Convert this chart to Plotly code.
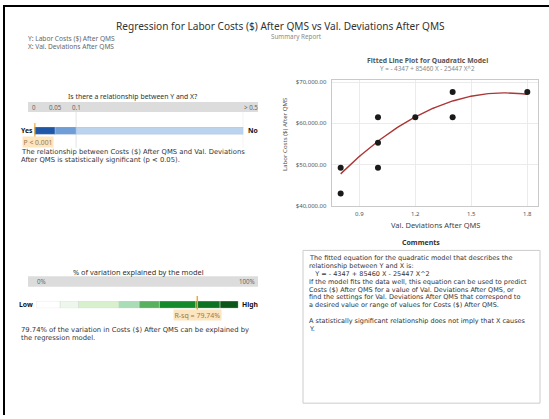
import numpy as np
import plotly.graph_objects as go

W, H = 549, 419
FONT = "Noto Sans"
BODY = "DejaVu Sans"

# ---------------- data ----------------
x_dev = [0.8, 0.8, 1.0, 1.0, 1.0, 1.2, 1.4, 1.4, 1.8]
y_cost = [49200, 43000, 61500, 55300, 49200, 61500, 67600, 61500, 67600]
coef = [-4347, 85460, -25447]          # Y = b0 + b1 X + b2 X^2
x_ticks = [0.9, 1.2, 1.5, 1.8]
y_ticks = [40000, 50000, 60000, 70000]
y_ticktext = ["${:,.2f}".format(v) for v in y_ticks]

p_value = 0.001
p_bounds = [0, 0.05, 0.1, 0.5]
p_labels = ["0", "0.05", "0.1", "> 0.5"]
p_colors = ["#1f57a6", "#6f9dd6", "#bcd3ee"]

rsq = 79.74
rsq_bounds = [0, 12, 21, 41, 51, 61, 79, 91, 100]
rsq_colors = ["#ffffff", "#eef7ec", "#d8f0cc", "#a8ddb6", "#58b15e", "#148a2a", "#0d7322", "#0a5517"]
rsq_labels = ["0%", "100%"]

title = "Regression for Labor Costs ($) After QMS vs Val. Deviations After QMS"
subtitle = "Summary Report"
var_lines = ["Y: Labor Costs ($) After QMS", "X: Val. Deviations After QMS"]
rel_lines = ["The relationship between Costs ($) After QMS and Val. Deviations",
             "After QMS is statistically significant (p < 0.05)."]
rsq_lines = ["79.74% of the variation in Costs ($) After QMS can be explained by",
             "the regression model."]
comment_lines = [
    "The fitted equation for the quadratic model that describes the",
    "relationship between Y and X is:",
    "   Y = - 4347 + 85460 X - 25447 X^2",
    "If the model fits the data well, this equation can be used to predict",
    "Costs ($) After QMS for a value of Val. Deviations After QMS, or",
    "find the settings for Val. Deviations After QMS that correspond to",
    "a desired value or range of values for Costs ($) After QMS.",
    "",
    "A statistically significant relationship does not imply that X causes",
    "Y.",
]

# ---------------- helpers ----------------
def px(x):
    return x / W

def py(y):
    return 1 - y / H

annotations = []
shapes = []

def text(s, x, y, size, color="#333333", anchor="left", bold=False, angle=0, family=FONT, **kw):
    if bold:
        s = "<b>" + s + "</b>"
    annotations.append(dict(text=s, x=px(x), y=py(y), xref="paper", yref="paper",
                            xanchor=anchor, yanchor="middle", showarrow=False,
                            textangle=angle, borderpad=0,
                            font=dict(family=family, size=size, color=color), **kw))

def rect(x0, y0, x1, y1, fill, line="rgba(0,0,0,0)", lw=0):
    shapes.append(dict(type="rect", xref="paper", yref="paper",
                       x0=px(x0), x1=px(x1), y0=py(y1), y1=py(y0),
                       fillcolor=fill, line=dict(color=line, width=lw), layer="below"))

fig = go.Figure()

# ---------------- frame ----------------
shapes.append(dict(type="line", xref="paper", yref="paper", x0=px(3), x1=1, y0=py(4), y1=py(4),
                   line=dict(color="black", width=2)))
shapes.append(dict(type="line", xref="paper", yref="paper", x0=px(4), x1=px(4), y0=py(3), y1=0,
                   line=dict(color="black", width=2)))

# ---------------- titles ----------------
text(title, 280, 24, 10.1, "#333333", anchor="center")
text(subtitle, 296, 34.5, 6.3, "#8a8a8a", anchor="center")
text(var_lines[0], 26.5, 37, 6.6, "#666666")
text(var_lines[1], 26.5, 45, 6.6, "#666666")

# ---------------- p-value bar (x2/y2) ----------------
P_X0, P_X1 = 34.3, 243.3
P_Y0, P_Y1 = 126.7, 134.3
text("Is there a relationship between Y and X?", 132.5, 96, 6.9, "#333333", anchor="center")
rect(28, 101.5, 258, 111.7, "#dcdcdc")
for b in p_bounds[2:]:
    shapes.append(dict(type="line", xref="x2", yref="paper", x0=b, x1=b,
                       y0=py(148), y1=py(111.7), line=dict(color="#e4e4e4", width=1), layer="below"))
for b, lab in zip(p_bounds, p_labels):
    annotations.append(dict(text=lab, x=b, y=py(106.6), xref="x2", yref="paper",
                            xanchor="left" if lab.startswith(">") else "center", yanchor="middle",
                            showarrow=False, borderpad=0,
                            font=dict(family=FONT, size=6.2, color="#666666")))
fig.add_trace(go.Bar(
    x=[p_bounds[i + 1] - p_bounds[i] for i in range(len(p_colors))],
    base=p_bounds[:-1], y=[0] * len(p_colors), orientation="h",
    marker=dict(color=p_colors, line=dict(color="#9fb9dc", width=0.5)),
    width=1, xaxis="x2", yaxis="y2", hoverinfo="skip", showlegend=False))
text("Yes", 33.5, 130.5, 6.8, "#111111", anchor="right", bold=True)
text("No", 246.5, 130.5, 6.8, "#111111", bold=True)
shapes.append(dict(type="line", xref="x2", yref="paper", x0=p_value, x1=p_value,
                   y0=py(137), y1=py(122.7), line=dict(color="#f0a830", width=1.5)))
annotations.append(dict(text="P < 0.001", x=px(22.3), y=py(141.7), xref="paper", yref="paper",
                        xanchor="left", yanchor="middle", showarrow=False, bgcolor="#fde6bf",
                        borderpad=0.5, font=dict(family=FONT, size=6.8, color="#9a7a4a")))
text(rel_lines[0], 19.5, 152, 6.8, family=BODY)
text(rel_lines[1], 19.5, 160.5, 6.8, family=BODY)

# ---------------- R-sq bar (x3/y3) ----------------
R_X0, R_X1 = 36, 238.3
R_Y0, R_Y1 = 303.3, 310.7
text("% of variation explained by the model", 138, 273.5, 7.4, "#333333", anchor="center")
rect(28, 278.3, 258, 289, "#dcdcdc")
annotations.append(dict(text=rsq_labels[0], x=rsq_bounds[0], y=py(283.6), xref="x3", yref="paper",
                        xanchor="left", yanchor="middle", showarrow=False, borderpad=0,
                        font=dict(family=FONT, size=6.2, color="#666666")))
annotations.append(dict(text=rsq_labels[1], x=rsq_bounds[-1], y=py(283.6), xref="x3", yref="paper",
                        xanchor="left", yanchor="middle", showarrow=False, borderpad=0,
                        font=dict(family=FONT, size=6.2, color="#666666")))
fig.add_trace(go.Bar(
    x=[rsq_bounds[i + 1] - rsq_bounds[i] for i in range(len(rsq_colors))],
    base=rsq_bounds[:-1], y=[0] * len(rsq_colors), orientation="h",
    marker=dict(color=rsq_colors, line=dict(color="#cfd8cf", width=0.5)),
    width=1, xaxis="x3", yaxis="y3", hoverinfo="skip", showlegend=False))
text("Low", 34, 307, 6.8, "#111111", anchor="right", bold=True)
text("High", 241, 307, 6.8, "#111111", bold=True)
shapes.append(dict(type="line", xref="x3", yref="paper", x0=rsq, x1=rsq,
                   y0=py(313.5), y1=py(298.3), line=dict(color="#f0a830", width=1.5)))
annotations.append(dict(text="R-sq = 79.74%", x=px(173.3), y=py(318), xref="paper", yref="paper",
                        xanchor="left", yanchor="middle", showarrow=False, bgcolor="#fde6bf",
                        borderpad=0.5, font=dict(family=FONT, size=7, color="#9a7a4a")))
text(rsq_lines[0], 19.5, 332.3, 6.8, family=BODY)
text(rsq_lines[1], 19.5, 341, 6.8, family=BODY)

# ---------------- scatter (x/y) ----------------
S_X0, S_X1 = 331.7, 538.3
S_Y0, S_Y1 = 79, 206.7
xs = np.linspace(min(x_dev), max(x_dev), 120)
ys = coef[0] + coef[1] * xs + coef[2] * xs ** 2
fig.add_trace(go.Scatter(x=xs, y=ys, mode="lines", line=dict(color="#ad3535", width=1.4),
                         hoverinfo="skip", showlegend=False))
fig.add_trace(go.Scatter(x=x_dev, y=y_cost, mode="markers",
                         marker=dict(color="#1a1a1a", size=6), hoverinfo="skip", showlegend=False))
text("Fitted Line Plot for Quadratic Model", 427, 59.3, 6.8, "#555555", anchor="center", bold=True)
text("Y = - 4347 + 85460 X - 25447 X^2", 427, 67, 6.3, "#888888", anchor="center")
text("Labor Costs ($) After QMS", 284, 134, 6.1, "#555555", anchor="center", angle=-90)
text("Val. Deviations After QMS", 435, 226, 7.5, "#444444", anchor="center")

# ---------------- comments ----------------
text("Comments", 421, 244, 7.0, "#333333", anchor="center", bold=True)
rect(303, 252, 540, 407, "white", line="#cccccc", lw=1)
for i, ln in enumerate(comment_lines):
    if ln:
        s = ln.replace(" ", "&nbsp;") if ln.startswith(" ") else ln
        text(s, 307.5, 259.5 + i * 8.05, 6.5, family=BODY)

axis_common = dict(showgrid=False, zeroline=False, showticklabels=False, fixedrange=True)
fig.update_layout(
    width=W, height=H, margin=dict(l=0, r=0, t=0, b=0),
    paper_bgcolor="white", plot_bgcolor="white", showlegend=False, barmode="overlay",
    xaxis=dict(domain=[px(S_X0), px(S_X1)], range=[0.752, 1.859], tickvals=x_ticks,
               tickformat=".1f", showgrid=True, gridcolor="#ebebeb", gridwidth=1,
               showline=True, mirror=True, linecolor="#c9c9c9", linewidth=1, zeroline=False,
               ticks="", tickfont=dict(family=FONT, size=6, color="#555555"),
               ticklabelstandoff=2),
    yaxis=dict(domain=[py(S_Y1), py(S_Y0)], range=[40000, 70550], tickvals=y_ticks,
               ticktext=y_ticktext, showgrid=True, gridcolor="#ebebeb",
               showline=True, mirror=True, linecolor="#c9c9c9", linewidth=1, zeroline=False,
               ticks="", tickfont=dict(family=FONT, size=6, color="#555555"),
               ticklabelstandoff=3),
    xaxis2=dict(domain=[px(P_X0), px(P_X1)], range=[p_bounds[0], p_bounds[-1]], anchor="y2", **axis_common),
    yaxis2=dict(domain=[py(P_Y1), py(P_Y0)], range=[-0.5, 0.5], anchor="x2", **axis_common),
    xaxis3=dict(domain=[px(R_X0), px(R_X1)], range=[rsq_bounds[0], rsq_bounds[-1]], anchor="y3", **axis_common),
    yaxis3=dict(domain=[py(R_Y1), py(R_Y0)], range=[-0.5, 0.5], anchor="x3", **axis_common),
    annotations=annotations, shapes=shapes,
)

fig.write_html("out.html", config={"displayModeBar": False},
               post_script="document.body.style.margin='0';document.body.style.overflow='hidden';")
